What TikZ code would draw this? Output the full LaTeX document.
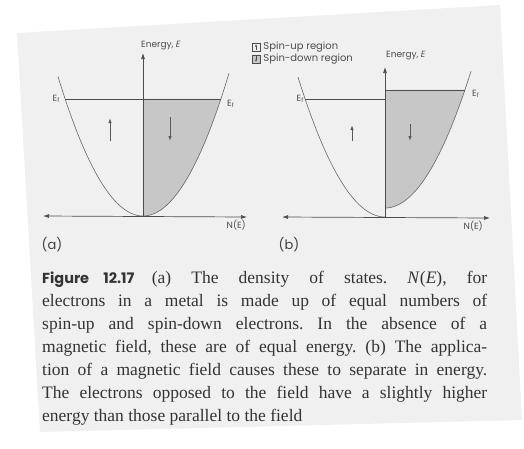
\documentclass[tikz,border=0pt]{standalone}
\usepackage{fontspec}
\setmainfont{Liberation Serif}
\newfontfamily\labelfont{Poppins}
\usetikzlibrary{arrows.meta,positioning}

\begin{document}
\begin{tikzpicture}[x=1pt, y=-1pt,
        axis/.style={draw=black!70, line width=0.7pt},
        axisarrow/.style={axis, -{Latex[length=6pt, width=4pt]}},
        bothways/.style={axis, {Latex[length=6pt, width=4pt]}-{Latex[length=6pt, width=4pt]}},
        band/.style={draw=black!60, line width=0.6pt},
        level/.style={draw=black!70, line width=0.7pt},
        shade/.style={fill=black!22},
        spin/.style={draw=black!65, line width=0.9pt, -{Latex[length=5pt, width=3.5pt]}},
        lbl/.style={font=\labelfont\fontsize{9}{10}\selectfont, text=black!70, inner sep=1pt},
        panel/.style={font=\labelfont\fontsize{13}{14}\selectfont, text=black!75, inner sep=0pt},
        legbox/.style={draw=black!70, line width=0.5pt, minimum size=8pt, inner sep=0pt}
    ]
        \useasboundingbox (0,0) rectangle (524,448);
        \fill[white] (0,0) rectangle (524,448);
        \fill[black!6] (17,33) -- (500,5) -- (522,420) -- (40,432) -- cycle;

        % (a) equal energies
        \fill[shade] (143,216) -- plot[domain=0:77.9, samples=40] ({143+\x}, {216-0.0193*\x*\x}) -- (143,99) -- cycle;
        \draw[band] plot[domain=-85:86, samples=80] ({143+\x}, {216-0.0193*\x*\x});
        \coordinate (a0) at (143,216);
        \coordinate (atop) at (143,53);
        \coordinate (aleft) at (43,216);
        \coordinate (aright) at (247,217);
        \draw[bothways] (aleft) -- (aright);
        \draw[axisarrow] (a0) -- (atop);
        \coordinate (afl) at (65,99);
        \coordinate (afr) at (221,99);
        \draw[level] (afl) -- (afr);
        \draw[spin] (110,141) -- (110,118);
        \draw[spin] (170,117) -- (170,141);
        \node[lbl, above right=2pt and -3pt of atop] (aen) {Energy, \textit{E}};
        \node[lbl, left=4pt of afl] (aefl) {E\textsubscript{f}};
        \node[lbl, below right=0pt and 5pt of afr] (aefr) {E\textsubscript{f}};
        \node[lbl, below left=2pt and 0pt of aright] (anl) {N(E)};
        \node[panel] (pa) at (52,245) {(a)};

        % (b) field splits the two bands
        \fill[shade] (385,208) -- plot[domain=0:79.9, samples=40] ({385+\x}, {208-0.0185*\x*\x}) -- (385,90) -- cycle;
        \draw[band] plot[domain=-87:0, samples=50] ({385+\x}, {217-0.0185*\x*\x});
        \draw[band] plot[domain=0:86, samples=50] ({385+\x}, {208-0.0185*\x*\x});
        \coordinate (b0) at (385,217);
        \coordinate (btop) at (385,67);
        \coordinate (bleft) at (282,217);
        \coordinate (bright) at (490,218);
        \draw[bothways] (bleft) -- (bright);
        \draw[axisarrow] (b0) -- (btop);
        \coordinate (bfl) at (305,99);
        \coordinate (bfm) at (385,99);
        \coordinate (bfh) at (385,90);
        \coordinate (bfr) at (465,90);
        \draw[level] (bfl) -- (bfm);
        \draw[level] (bfh) -- (bfr);
        \draw[spin] (352,141) -- (352,125);
        \draw[spin] (410,124) -- (410,141);
        \node[lbl, above right=6pt and 0pt of btop] (ben) {Energy, \textit{E}};
        \node[lbl, left=0pt of bfl] (befl) {E\textsubscript{f}};
        \node[lbl, right=6pt of bfr, yshift=-4pt] (befr) {E\textsubscript{f}};
        \node[lbl, below left=2pt and 6pt of bright] (bnl) {N(E)};
        \node[panel] (pb) at (289,245) {(b)};

        % key
        \node[legbox] (ku) at (256,47) {};
        \draw[black!70, line width=0.5pt, -{Latex[length=2.5pt, width=2pt]}] ([yshift=-3pt]ku.center) -- ([yshift=3pt]ku.center);
        \node[legbox, fill=black!22] (kd) at (256,59) {};
        \draw[black!70, line width=0.5pt, -{Latex[length=2.5pt, width=2pt]}] ([yshift=3pt]kd.center) -- ([yshift=-3pt]kd.center);
        \node[lbl, font=\labelfont\fontsize{10}{11}\selectfont, right=2pt of ku] (tu) {Spin-up region};
        \node[lbl, font=\labelfont\fontsize{10}{11}\selectfont, right=2pt of kd] (td) {Spin-down region};

        % caption
        \node[anchor=north west, text width=445pt, align=justify, inner sep=0pt,
              font=\fontsize{17.5}{23}\selectfont\frenchspacing, text=black!80] (cap) at (42,271)
            {{\labelfont\fontsize{14.5}{23}\selectfont\bfseries Figure 12.17}\quad (a) The density of states. \textit{N}(\textit{E}), for\linebreak
             electrons in a metal is made up of equal numbers of\linebreak
             spin-up and spin-down electrons. In the absence of a\linebreak
             magnetic field, these are of equal energy. (b) The applica-\linebreak
             tion of a magnetic field causes these to separate in energy.\linebreak
             The electrons opposed to the field have a slightly higher\linebreak
             energy than those parallel to the field\par};
    \end{tikzpicture}
\end{document}
